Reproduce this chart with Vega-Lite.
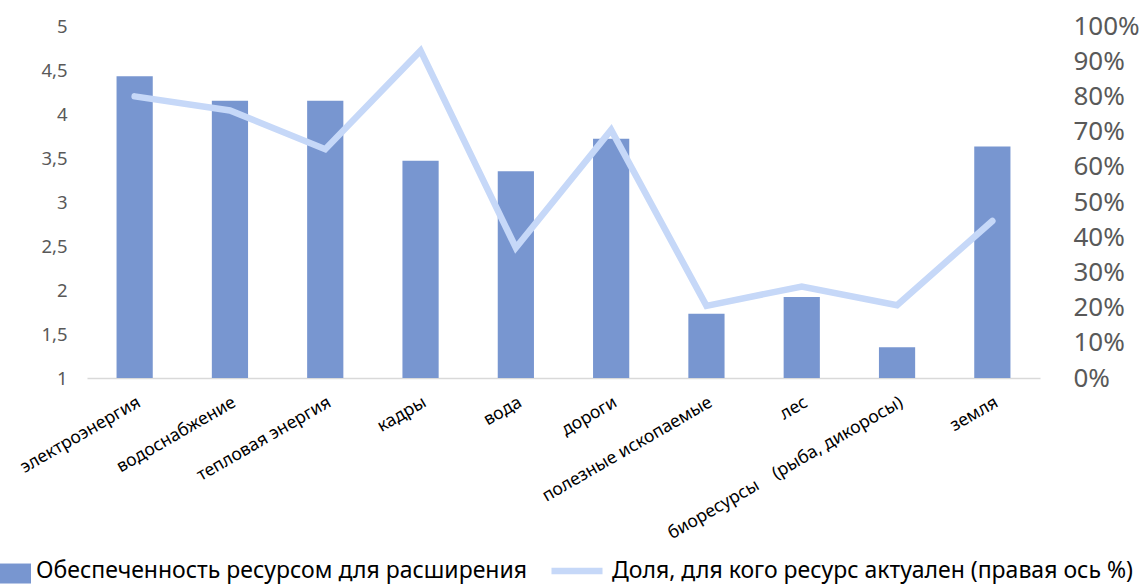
{
  "$schema": "https://vega.github.io/schema/vega-lite/v6.json",
  "width": 953,
  "height": 352,
  "autosize": {"type": "none"},
  "padding": {"left": 87, "top": 26, "right": 104, "bottom": 207},
  "background": "white",
  "config": {
    "view": {"stroke": null},
    "font": "Noto Sans"
  },
  "data": {
    "values": [
      {"resource": "электроэнергия", "supply": 4.43, "share": 0.80},
      {"resource": "водоснабжение", "supply": 4.15, "share": 0.76},
      {"resource": "тепловая энергия", "supply": 4.15, "share": 0.65},
      {"resource": "кадры", "supply": 3.47, "share": 0.93},
      {"resource": "вода", "supply": 3.35, "share": 0.37},
      {"resource": "дороги", "supply": 3.72, "share": 0.705},
      {"resource": "полезные ископаемые", "supply": 1.73, "share": 0.205},
      {"resource": "лес", "supply": 1.92, "share": 0.26},
      {"resource": "биоресурсы\u00a0\u00a0\u00a0\u00a0(рыба, дикоросы)", "supply": 1.35, "share": 0.207},
      {"resource": "земля", "supply": 3.63, "share": 0.446}
    ]
  },
  "encoding": {
    "x": {
      "field": "resource",
      "type": "nominal",
      "sort": null,
      "scale": {"paddingInner": 0.62, "paddingOuter": 0.31},
      "axis": {
        "title": null,
        "labelAngle": -30,
        "labelFontSize": 17.5,
        "labelColor": "#000000",
        "labelPadding": 15,
        "ticks": false,
        "domainColor": "#D9D9D9",
        "domainWidth": 1.5,
        "labelLimit": 400
      }
    }
  },
  "layer": [
    {
      "mark": {"type": "bar", "color": "#7896D0"},
      "encoding": {
        "y": {
          "field": "supply",
          "type": "quantitative",
          "scale": {"domain": [1, 5], "zero": false, "nice": false},
          "axis": {
            "title": null,
            "orient": "left",
            "values": [1, 1.5, 2, 2.5, 3, 3.5, 4, 4.5, 5],
            "labelExpr": "replace(format(datum.value, '.1~f'), '.', ',')",
            "labelFontSize": 18.5,
            "labelColor": "#595959",
            "labelPadding": 20,
            "ticks": false,
            "domain": false,
            "grid": false
          }
        },
        "y2": {"datum": 1},
        "fill": {
          "datum": "Обеспеченность ресурсом для расширения",
          "type": "nominal",
          "scale": {"range": ["#7896D0"]},
          "legend": {
            "title": null,
            "orient": "none",
            "legendX": -87,
            "legendY": 529,
            "symbolType": "M-1,-0.45H1V0.84H-1Z",
            "symbolSize": 961,
            "symbolStrokeWidth": 0,
            "labelFontSize": 23,
            "labelColor": "#000000",
            "labelOffset": 5,
            "labelLimit": 600,
            "padding": 0
          }
        }
      }
    },
    {
      "mark": {"type": "line", "strokeWidth": 6.5, "strokeCap": "round", "strokeJoin": "miter"},
      "encoding": {
        "y": {
          "field": "share",
          "type": "quantitative",
          "scale": {"domain": [0, 1], "nice": false},
          "axis": {
            "title": null,
            "orient": "right",
            "values": [0, 0.1, 0.2, 0.3, 0.4, 0.5, 0.6, 0.7, 0.8, 0.9, 1],
            "format": ".0%",
            "labelFontSize": 26,
            "labelColor": "#595959",
            "labelPadding": 33,
            "ticks": false,
            "domain": false,
            "grid": false
          }
        },
        "stroke": {
          "datum": "Доля, для кого ресурс актуален (правая ось %)",
          "type": "nominal",
          "scale": {"range": ["#C6D8F8"]},
          "legend": {
            "title": null,
            "orient": "none",
            "legendX": 461,
            "legendY": 516,
            "symbolType": "stroke",
            "symbolSize": 2601,
            "symbolStrokeWidth": 6.5,
            "labelFontSize": 23,
            "labelColor": "#000000",
            "labelOffset": 6,
            "labelLimit": 700,
            "padding": 0
          }
        }
      }
    }
  ],
  "resolve": {"scale": {"y": "independent", "fill": "independent", "stroke": "independent"}}
}
